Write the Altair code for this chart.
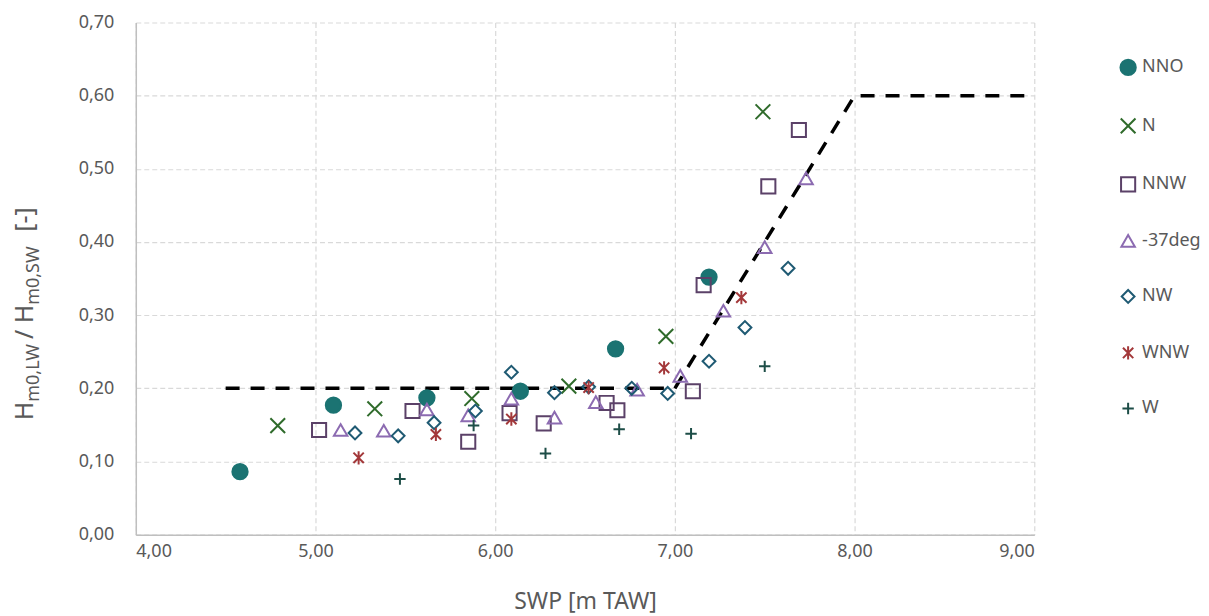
import altair as alt
import pandas as pd

# ---- data ----
series_names = ["NNO", "N", "NNW", "-37deg", "NW", "WNW", "W"]

nno_x = [4.58, 5.10, 5.62, 6.14, 6.67, 7.19]
nno_y = [0.086, 0.177, 0.187, 0.196, 0.254, 0.352]

n_x = [4.79, 5.33, 5.87, 6.41, 6.95, 7.49]
n_y = [0.149, 0.172, 0.186, 0.203, 0.271, 0.578]

nnw_x = [5.02, 5.54, 5.85, 6.08, 6.27, 6.62, 6.68, 7.10, 7.16, 7.52, 7.69]
nnw_y = [0.143, 0.169, 0.127, 0.166, 0.152, 0.180, 0.170, 0.196, 0.341, 0.476, 0.553]

deg_x = [5.14, 5.38, 5.62, 5.85, 6.09, 6.33, 6.56, 6.79, 7.03, 7.27, 7.50, 7.73]
deg_y = [0.143, 0.142, 0.171, 0.163, 0.186, 0.160, 0.181, 0.198, 0.217, 0.306, 0.393, 0.487]

nw_x = [5.22, 5.46, 5.66, 5.89, 6.09, 6.33, 6.52, 6.76, 6.96, 7.19, 7.39, 7.63]
nw_y = [0.139, 0.135, 0.153, 0.169, 0.222, 0.194, 0.202, 0.200, 0.193, 0.237, 0.283, 0.364]

wnw_x = [5.24, 5.67, 6.09, 6.52, 6.94, 7.37]
wnw_y = [0.105, 0.137, 0.158, 0.201, 0.228, 0.324]

w_x = [5.47, 5.88, 6.28, 6.69, 7.09, 7.50]
w_y = [0.076, 0.149, 0.111, 0.144, 0.138, 0.230]

line_x = [4.5, 7.0, 8.0, 9.0]
line_y = [0.20, 0.20, 0.60, 0.60]

x_ticks = [4, 5, 6, 7, 8, 9]
y_ticks = [0.0, 0.1, 0.2, 0.3, 0.4, 0.5, 0.6, 0.7]

# ---- styling ----
X_PATH = "M-1,-1L1,1M-1,1L1,-1"
AST_PATH = "M-0.85,-0.85L0.85,0.85M-0.85,0.85L0.85,-0.85M0,-1.1L0,1.1"
PLUS_PATH = "M-1,0L1,0M0,-1L0,1"

stroke_colors = ["#1b7372", "#2f6b2b", "#5b4168", "#8c6bb1", "#1f5a73", "#a3383a", "#1d4d47"]
fill_colors = ["#1b7372", "transparent", "transparent", "transparent",
               "transparent", "transparent", "transparent"]
shapes = ["circle", X_PATH, "square", "triangle-up", "diamond", AST_PATH, PLUS_PATH]
sizes = [235, 130, 170, 200, 240, 230, 170]

TXT = "#595959"
FONT = "Noto Sans"

xs = [nno_x, n_x, nnw_x, deg_x, nw_x, wnw_x, w_x]
ys = [nno_y, n_y, nnw_y, deg_y, nw_y, wnw_y, w_y]
rows = []
for name, sx, sy in zip(series_names, xs, ys):
    for a, b in zip(sx, sy):
        rows.append({"series": name, "swp": a, "ratio": b})
df = pd.DataFrame(rows)
line_df = pd.DataFrame({"swp": line_x, "ratio": line_y})

W_PLOT, H_PLOT = 900, 513

label_expr = "replace(format(datum.value, '.2f'), '.', ',')"

x_enc = alt.X("swp:Q",
              scale=alt.Scale(domain=[4, 9], nice=False),
              axis=alt.Axis(values=x_ticks, labelExpr=label_expr, title="SWP [m TAW]",
                            titlePadding=30, labelPadding=8))
y_enc = alt.Y("ratio:Q",
              scale=alt.Scale(domain=[0, 0.7], nice=False),
              axis=alt.Axis(values=y_ticks, labelExpr=label_expr, title=None,
                            labelPadding=22))

line = alt.Chart(line_df).mark_line(
    color="black", strokeWidth=3.5, strokeDash=[14, 11]
).encode(x=x_enc, y=y_enc)

legend_def = alt.Legend(title=None)

pts = alt.Chart(df).mark_point(strokeWidth=2, opacity=1).encode(
    x=alt.X("swp:Q"),
    y=alt.Y("ratio:Q"),
    stroke=alt.Stroke("series:N", sort=series_names,
                      scale=alt.Scale(domain=series_names, range=stroke_colors),
                      legend=legend_def),
    fill=alt.Fill("series:N", sort=series_names,
                  scale=alt.Scale(domain=series_names, range=fill_colors),
                  legend=legend_def),
    shape=alt.Shape("series:N", sort=series_names,
                    scale=alt.Scale(domain=series_names, range=shapes),
                    legend=legend_def),
    size=alt.Size("series:N", sort=series_names,
                  scale=alt.Scale(domain=series_names, range=sizes),
                  legend=legend_def),
)

# ---- y axis title with subscripts, built from text pieces ----
char_w = {"H": 0.74, "m": 0.93, "0": 0.57, ",": 0.26, "L": 0.53, "W": 0.92, "S": 0.55,
          "/": 0.37, " ": 0.26, "[": 0.32, "-": 0.32, "]": 0.32}
BIG, SMALL = 25, 18
# (text, font size, is subscript, extra gap after in em of BIG)
parts = [("H", BIG, False, 0.0), ("m0,LW", SMALL, True, 0.2), ("/ H", BIG, False, 0.0),
         ("m0,SW", SMALL, True, 0.6), ("[-]", BIG, False, 0.0)]


def text_w(t, fs):
    return sum(char_w.get(c, 0.6) for c in t) * fs


total = sum(text_w(t, fs) + g * BIG for t, fs, _, g in parts)
pos = 292 + total / 2
title_layers = []
for t, fs, sub, g in parts:
    title_layers.append(
        alt.Chart(alt.Data(values=[{"k": 1}])).mark_text(
            angle=270, align="left", baseline="alphabetic", fontSize=fs,
            font=FONT, color=TXT
        ).encode(x=alt.value(-103 + (6 if sub else 0)), y=alt.value(pos), text=alt.value(t))
    )
    pos -= text_w(t, fs) + g * BIG

chart = alt.layer(line, pts, *title_layers).properties(
    width=W_PLOT, height=H_PLOT,
    padding={"left": 5, "top": 5, "right": 0, "bottom": 5},
).configure_view(stroke=None).configure_axis(
    labelFont=FONT, titleFont=FONT, labelFontSize=18, titleFontSize=23,
    labelColor=TXT, titleColor=TXT, titleFontWeight="normal",
    domainColor="#bfbfbf", domainWidth=1.5, ticks=False,
    gridColor="#d9d9d9", gridDash=[5, 3], gridWidth=1.2,
).configure_legend(
    orient="none", legendX=985, legendY=36, padding=0,
    labelFont=FONT, labelFontSize=18, labelColor=TXT,
    rowPadding=34.6, symbolStrokeWidth=2, labelOffset=5,
)

chart.save("out.html", embed_options={"renderer": "svg", "actions": False})
